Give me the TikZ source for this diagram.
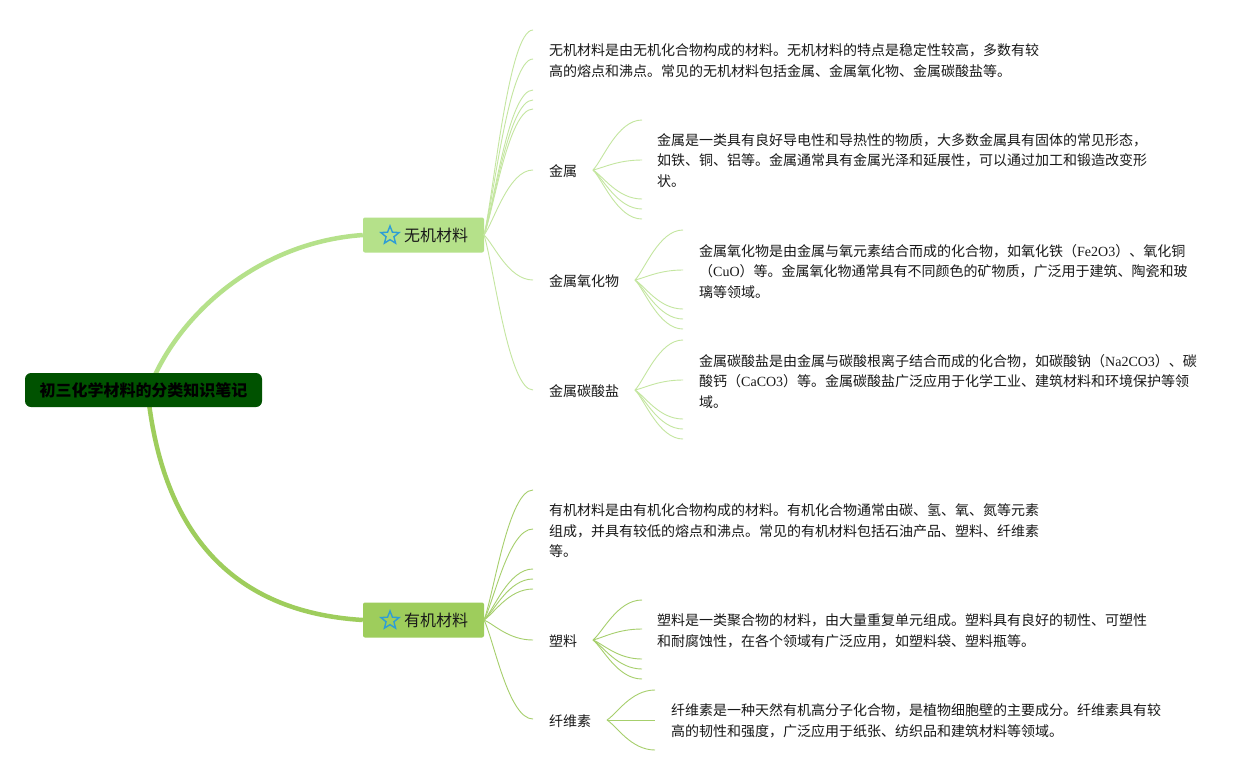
\documentclass[tikz,border=0pt]{standalone}
\usepackage{fontspec}
\setmainfont{Noto Sans CJK SC}
\newfontfamily\lat{Liberation Serif}
\usetikzlibrary{shapes.geometric,calc}
\definecolor{rootg}{RGB}{0,82,0}
\definecolor{ga}{RGB}{181,225,138}
\definecolor{gb}{RGB}{158,205,92}
\definecolor{la}{RGB}{196,230,160}
\definecolor{lb}{RGB}{166,207,108}
\definecolor{starb}{RGB}{46,157,214}
\definecolor{txt}{RGB}{25,25,25}
\newcommand{\brc}[3][la]{\draw[thinbr,#1] let \p1=(#2), \p2=(#3) in (\p1) .. controls ({\x1+0.2*(\x2-\x1)},{\y1+0.2*(\y2-\y1)}) and ({\x1+0.5*(\x2-\x1)},\y2) .. (\p2);}
\begin{document}
\begin{tikzpicture}[x=1pt,y=-1pt,
  thinbr/.style={line width=0.9pt},
  desc/.style={anchor=west,inner sep=0pt,align=left,text=txt,font=\fontsize{14}{20.5}\selectfont},
  lbl/.style={anchor=west,inner sep=0pt,text=txt,font=\fontsize{14}{16}\selectfont},
  mainbox/.style={minimum width=121pt,minimum height=35pt,inner sep=0pt,rounded corners=2pt},
  startxt/.style={inner sep=0pt,text=txt,font=\fontsize{16}{18}\selectfont},
  stargl/.style={star,star points=5,star point ratio=2.3,draw=starb,line width=1.4pt,minimum size=19pt,inner sep=0pt}
]
\useasboundingbox (0,0) rectangle (1259,780);
\fill[white] (0,0) rectangle (1259,780);

% main curves
\coordinate (r0) at (147,395);
\coordinate (r1) at (147,385);
\node[mainbox,fill=ga] (n1) at (423.5,235) {};
\node[mainbox,fill=gb] (n2) at (423.5,620) {};
\draw[ga,line width=4.5pt] (r0) .. controls (170,325) and (250,243) .. (n1.west);
\draw[gb,line width=4.5pt] (r1) .. controls (160,530) and (230,612) .. (n2.west);

\node[fill=rootg,rounded corners=6pt,minimum width=237pt,minimum height=34pt,inner sep=0pt,text=black,font=\fontsize{16}{18}\selectfont\bfseries] (root) at (143.5,390) {初三化学材料的分类知识笔记};

\node[stargl] (s1) at (390,235.5) {};
\node[startxt,anchor=west] (t1) at (404,235) {无机材料};
\node[stargl] (s2) at (390,620.5) {};
\node[startxt,anchor=west] (t2) at (404,620) {有机材料};

% first level: inorganic
\coordinate (a0) at (484,235);
\foreach \i/\y in {1/30,2/59,3/90,4/100,5/109,6/170,7/280,8/390} {
  \coordinate (a\i) at (533,\y);
  \brc[la]{a0}{a\i}
}
\node[desc] (d1) at (549,60.5) {无机材料是由无机化合物构成的材料。无机材料的特点是稳定性较高，多数有较\\高的熔点和沸点。常见的无机材料包括金属、金属氧化物、金属碳酸盐等。};
\node[lbl] (m1) at (549,171) {金属};
\node[lbl] (m2) at (549,281) {金属氧化物};
\node[lbl] (m3) at (549,391) {金属碳酸盐};

% metals
\coordinate (b0) at (593,170);
\foreach \i/\y in {1/120,2/160,3/199,4/209,5/219} {
  \coordinate (b\i) at (642,\y);
  \brc[la]{b0}{b\i}
}
\node[desc] (d2) at (657,160.5) {金属是一类具有良好导电性和导热性的物质，大多数金属具有固体的常见形态，\\如铁、铜、铝等。金属通常具有金属光泽和延展性，可以通过加工和锻造改变形\\状。};

% oxides
\coordinate (c0) at (635,280);
\foreach \i/\y in {1/230,2/270,3/309,4/319,5/329} {
  \coordinate (c\i) at (683,\y);
  \brc[la]{c0}{c\i}
}
\node[desc] (d3) at (699,271.5) {金属氧化物是由金属与氧元素结合而成的化合物，如氧化铁（{\lat Fe2O3}）、氧化铜\\（{\lat CuO}）等。金属氧化物通常具有不同颜色的矿物质，广泛用于建筑、陶瓷和玻\\璃等领域。};

% carbonates
\coordinate (e0) at (635,390);
\foreach \i/\y in {1/340,2/380,3/419,4/429,5/439} {
  \coordinate (e\i) at (683,\y);
  \brc[la]{e0}{e\i}
}
\node[desc] (d4) at (699,381.5) {金属碳酸盐是由金属与碳酸根离子结合而成的化合物，如碳酸钠（{\lat Na2CO3}）、碳\\酸钙（{\lat CaCO3}）等。金属碳酸盐广泛应用于化学工业、建筑材料和环境保护等领\\域。};

% first level: organic
\coordinate (f0) at (484,620);
\foreach \i/\y in {1/490,2/529,3/569,4/579,5/589,6/640,7/719} {
  \coordinate (f\i) at (533,\y);
  \brc[lb]{f0}{f\i}
}
\node[desc] (d5) at (549,531) {有机材料是由有机化合物构成的材料。有机化合物通常由碳、氢、氧、氮等元素\\组成，并具有较低的熔点和沸点。常见的有机材料包括石油产品、塑料、纤维素\\等。};
\node[lbl] (o1) at (549,641) {塑料};
\node[lbl] (o2) at (549,721) {纤维素};

% plastics
\coordinate (g0) at (593,640);
\foreach \i/\y in {1/600,2/629,3/659,4/669,5/679} {
  \coordinate (g\i) at (642,\y);
  \brc[lb]{g0}{g\i}
}
\node[desc] (d6) at (657,631) {塑料是一类聚合物的材料，由大量重复单元组成。塑料具有良好的韧性、可塑性\\和耐腐蚀性，在各个领域有广泛应用，如塑料袋、塑料瓶等。};

% cellulose
\coordinate (h0) at (607,720);
\foreach \i/\y in {1/690,2/720,3/750} {
  \coordinate (h\i) at (655,\y);
  \brc[lb]{h0}{h\i}
}
\node[desc] (d7) at (671,721) {纤维素是一种天然有机高分子化合物，是植物细胞壁的主要成分。纤维素具有较\\高的韧性和强度，广泛应用于纸张、纺织品和建筑材料等领域。};
\end{tikzpicture}
\end{document}
